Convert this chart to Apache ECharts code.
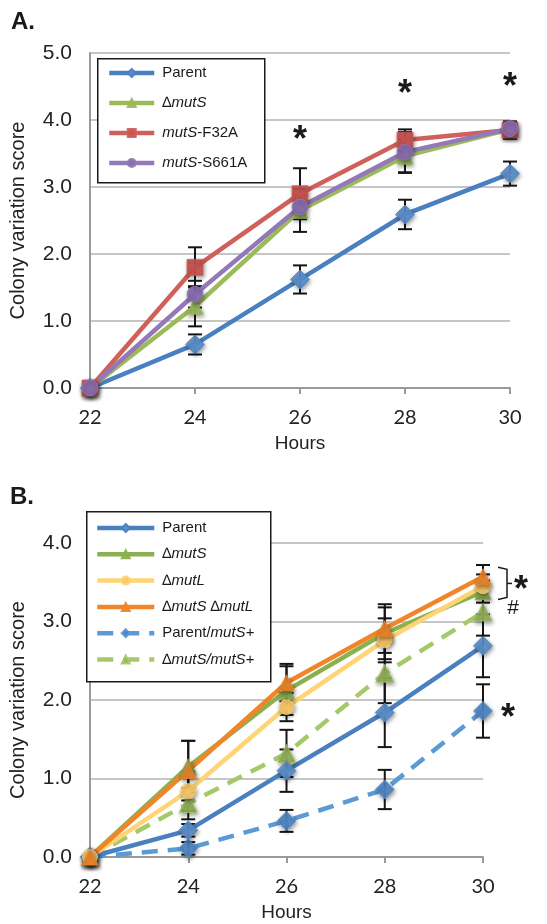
<!DOCTYPE html>
<html><head><meta charset="utf-8">
<script src="https://cdn.jsdelivr.net/npm/echarts@6/dist/echarts.min.js"></script>
<style>html,body{margin:0;padding:0;background:#fff}#c{width:547px;height:924px}</style>
</head><body><div id="c"></div>
<script>
// ---------- data ----------
const hours = [22, 24, 26, 28, 30];
const yTicksA = [0, 1, 2, 3, 4, 5];
const yTicksB = [0, 1, 2, 3, 4];

// Panel A
const parentA = [0, 0.65, 1.62, 2.59, 3.20];
const parentAErr = [0, 0.15, 0.21, 0.22, 0.18];
const mutSA = [0, 1.22, 2.65, 3.46, 3.86];
const mutSAErr = [0, 0.30, 0.32, 0.25, 0.10];
const f32A = [0, 1.80, 2.90, 3.70, 3.85];
const f32AErr = [0, 0.30, 0.38, 0.16, 0.13];
const s661A = [0, 1.40, 2.70, 3.52, 3.87];
const s661AErr = [0, 0.20, 0.17, 0.30, 0.10];

// Panel B
const parentB = [0, 0.34, 1.10, 1.84, 2.69];
const parentBErr = [0, 0.08, 0.27, 0.44, 0.40];
const mutSB = [0, 1.15, 2.12, 2.85, 3.38];
const mutSBErr = [0, 0.33, 0.31, 0.33, 0.14];
const mutLB = [0, 0.84, 1.91, 2.76, 3.45];
const mutLBErr = [0, 0.25, 0.18, 0.28, 0.15];
const mutSmutLB = [0, 1.10, 2.22, 2.91, 3.57];
const mutSmutLBErr = [0, 0.38, 0.24, 0.31, 0.15];
const parentCompB = [0, 0.11, 0.46, 0.86, 1.86];
const parentCompBErr = [0, 0.08, 0.14, 0.25, 0.34];
const mutSCompB = [0, 0.68, 1.32, 2.34, 3.12];
const mutSCompBErr = [0, 0.20, 0.30, 0.38, 0.30];

// annotations: [hour, value, text, dx, dy]
const annotA = [[26, 3.80, '*'], [28, 4.49, '*'], [30, 4.60, '*']];
const annotB = [[30, 1.86, '*', 25, 0], [30, 3.17, '#', 30, 0], [30, 3.49, '*', 38, 0]];
const bracketB = [[30, 3.69, 3.28]];

// ---------- helpers ----------
const pair = (ys) => hours.map((h, i) => [h, ys[i]]);
const triple = (ys, es) => hours.map((h, i) => [h, ys[i], es[i]]);
const FONT = '"Liberation Sans", Arial, sans-serif';
const shadow = {shadowBlur: 4, shadowColor: 'rgba(0,0,0,0.45)', shadowOffsetX: 1, shadowOffsetY: 2};

function lineSeries(name, ys, color, mcolor, symbol, size, gi, dashed) {
  return {
    type: 'line', name: name, data: pair(ys), xAxisIndex: gi, yAxisIndex: gi,
    symbol: symbol, symbolSize: size, z: 3,
    lineStyle: {color: color, width: 4.5, type: dashed ? [16, 10] : 'solid'},
    itemStyle: Object.assign({color: mcolor, opacity: 0.92, borderColor: color, borderWidth: 0.8}, shadow),
    emphasis: {disabled: true}, animation: false
  };
}
function errSeries(ys, es, gi) {
  return {
    type: 'custom', xAxisIndex: gi, yAxisIndex: gi, z: 2, animation: false, silent: true,
    data: triple(ys, es),
    renderItem: function (params, api) {
      const x = api.value(0), y = api.value(1), e = api.value(2);
      if (!e) return null;
      const t = api.coord([x, y + e]), b = api.coord([x, y - e]);
      const w = 7;
      const st = {stroke: '#151515', lineWidth: 2};
      return {type: 'group', children: [
        {type: 'line', shape: {x1: t[0], y1: t[1], x2: b[0], y2: b[1]}, style: st},
        {type: 'line', shape: {x1: t[0] - w, y1: t[1], x2: t[0] + w, y2: t[1]}, style: st},
        {type: 'line', shape: {x1: b[0] - w, y1: b[1], x2: b[0] + w, y2: b[1]}, style: st}
      ]};
    }
  };
}
function annotSeries(data, gi) {
  return {
    type: 'custom', xAxisIndex: gi, yAxisIndex: gi, z: 5, animation: false, silent: true, clip: false,
    data: data,
    renderItem: function (params, api) {
      const d = data[params.dataIndex];
      const p = api.coord([d[0], d[1]]);
      const isStar = d[2] === '*';
      return {type: 'text', x: p[0] + (d[3] || 0), y: p[1] + (isStar ? 8 : 0) + (d[4] || 0),
        style: {text: d[2], fill: '#1a1a1a', font: isStar ? 'bold 36px ' + FONT : '21px ' + FONT,
          textAlign: 'center', textVerticalAlign: 'middle'}};
    }
  };
}
function bracketSeries(gi) {
  return {
    type: 'custom', xAxisIndex: gi, yAxisIndex: gi, z: 5, animation: false, silent: true, clip: false,
    data: bracketB,
    renderItem: function (params, api) {
      const d = bracketB[params.dataIndex];
      const t = api.coord([d[0], d[1]]), b = api.coord([d[0], d[2]]);
      const x0 = t[0] + 15, x1 = t[0] + 24, ym = (t[1] + b[1]) / 2;
      return {type: 'group', children: [
        {type: 'polyline', shape: {points: [[x0, t[1]], [x1, t[1] + 2], [x1, b[1] - 2], [x0, b[1]]]},
          style: {stroke: '#1a1a1a', lineWidth: 1.5, fill: null}},
        {type: 'line', shape: {x1: x1, y1: ym, x2: x1 + 5, y2: ym}, style: {stroke: '#1a1a1a', lineWidth: 1.5}}
      ]};
    }
  };
}

const labels = {
  'A:Parent': 'Parent', 'A:mutS': '∆{i|mutS}', 'A:F32A': '{i|mutS}-F32A', 'A:S661A': '{i|mutS}-S661A',
  'B:Parent': 'Parent', 'B:mutS': '∆{i|mutS}', 'B:mutL': '∆{i|mutL}', 'B:mutSmutL': '∆{i|mutS} ∆{i|mutL}',
  'B:ParentComp': 'Parent/{i|mutS+}', 'B:mutSComp': '∆{i|mutS/mutS+}'
};
const rich = {i: {fontStyle: 'italic', fontSize: 15, fontFamily: FONT, color: '#1a1a1a'}};

function xAxisCfg(gi) {
  return {type: 'value', gridIndex: gi, min: 22, max: 30, interval: 2,
    name: 'Hours', nameLocation: 'middle', nameGap: 46,
    nameTextStyle: {fontFamily: FONT, fontSize: 19, color: '#222'},
    axisLine: {lineStyle: {color: '#9a9a9a', width: 2}},
    axisTick: {show: true, inside: false, length: 6, lineStyle: {color: '#9a9a9a', width: 2}},
    axisLabel: {fontFamily: 'Lato, "Open Sans", sans-serif', fontSize: 20, color: '#222', margin: 20},
    splitLine: {show: false}};
}
function yAxisCfg(gi, max) {
  return {type: 'value', gridIndex: gi, min: 0, max: max, interval: 1,
    name: 'Colony variation score', nameLocation: 'middle', nameGap: 62,
    nameTextStyle: {fontFamily: FONT, fontSize: 20, color: '#222'},
    axisLine: {show: true, lineStyle: {color: '#9a9a9a', width: 2}},
    axisTick: {show: false},
    axisLabel: {fontFamily: FONT, fontSize: 21, color: '#222', margin: 18, formatter: v => v.toFixed(1)},
    splitLine: {show: true, lineStyle: {color: '#b3b3b3', width: 1.5}}};
}

const cA = {parent: '#4a80bf', parentM: '#5b8fcc', mutS: '#9bbb59', f32: '#d0605a', f32M: '#c9544f', s661: '#9479b8', s661M: '#8a6cb0'};
const cB = {parent: '#4a80bf', parentM: '#5b8fcc', mutS: '#8cb04f', mutL: '#ffd475', mutLM: '#fcc96a', ml: '#ef8629', pc: '#5b9bd5', pcM: '#4f86c4', sc: '#a5c96a', scM: '#93b15a'};

const series = [
  errSeries(parentA, parentAErr, 0), errSeries(mutSA, mutSAErr, 0), errSeries(f32A, f32AErr, 0), errSeries(s661A, s661AErr, 0),
  lineSeries('A:Parent', parentA, cA.parent, cA.parentM, 'diamond', 19, 0),
  lineSeries('A:mutS', mutSA, cA.mutS, cA.mutS, 'triangle', 16, 0),
  lineSeries('A:F32A', f32A, cA.f32, cA.f32M, 'rect', 16, 0),
  lineSeries('A:S661A', s661A, cA.s661, cA.s661M, 'circle', 16, 0),
  annotSeries(annotA, 0),

  errSeries(parentB, parentBErr, 1), errSeries(mutSB, mutSBErr, 1), errSeries(mutLB, mutLBErr, 1),
  errSeries(mutSmutLB, mutSmutLBErr, 1), errSeries(parentCompB, parentCompBErr, 1), errSeries(mutSCompB, mutSCompBErr, 1),
  lineSeries('B:ParentComp', parentCompB, cB.pc, cB.pcM, 'diamond', 19, 1, true),
  lineSeries('B:mutSComp', mutSCompB, cB.sc, cB.scM, 'triangle', 18, 1, true),
  lineSeries('B:Parent', parentB, cB.parent, cB.parentM, 'diamond', 19, 1),
  lineSeries('B:mutS', mutSB, cB.mutS, cB.mutS, 'triangle', 16, 1),
  lineSeries('B:mutL', mutLB, cB.mutL, cB.mutLM, 'circle', 15, 1),
  lineSeries('B:mutSmutL', mutSmutLB, cB.ml, cB.ml, 'triangle', 16, 1),
  annotSeries(annotB, 1),
  bracketSeries(1)
];

function legendCfg(names, left, top, itemW, gap) {
  return {show: true, orient: 'vertical', left: left, top: top, padding: 0, itemGap: gap,
    itemWidth: itemW, itemHeight: 10, selectedMode: false, data: names,
    lineStyle: {width: 4.5},
    itemStyle: {shadowBlur: 0, shadowOffsetX: 0, shadowOffsetY: 0},
    formatter: n => labels[n],
    textStyle: {fontFamily: FONT, fontSize: 15, color: '#1a1a1a', lineHeight: 16, padding: [0, 0, 0, 3], rich: rich}};
}

const chart = echarts.init(document.getElementById('c'), null, {renderer: 'canvas'});
chart.setOption({
  animation: false,
  backgroundColor: '#fff',
  grid: [
    {left: 89, right: 37, top: 53, height: 335},
    {left: 88, right: 64, top: 543, height: 314}
  ],
  xAxis: [xAxisCfg(0), xAxisCfg(1)],
  yAxis: [yAxisCfg(0, 5), yAxisCfg(1, 4)],
  legend: [
    legendCfg(['A:Parent', 'A:mutS', 'A:F32A', 'A:S661A'], 107, 65, 45, 14),
    legendCfg(['B:Parent', 'B:mutS', 'B:mutL', 'B:mutSmutL', 'B:ParentComp', 'B:mutSComp'], 95, 520, 57, 10.3)
  ],
  graphic: [
    {type: 'rect', left: 97, top: 58, z: 3, shape: {width: 167, height: 124}, style: {fill: '#fff', stroke: '#1a1a1a', lineWidth: 1.5}},
    {type: 'rect', left: 86, top: 511, z: 3, shape: {width: 184, height: 170}, style: {fill: '#fff', stroke: '#1a1a1a', lineWidth: 1.5}},
    {type: 'text', left: 11, top: 10, z: 5, style: {text: 'A.', font: 'bold 24px ' + FONT, fill: '#1a1a1a'}},
    {type: 'text', left: 10, top: 485, z: 5, style: {text: 'B.', font: 'bold 24px ' + FONT, fill: '#1a1a1a'}}
  ],
  series: series
});
</script></body></html>
